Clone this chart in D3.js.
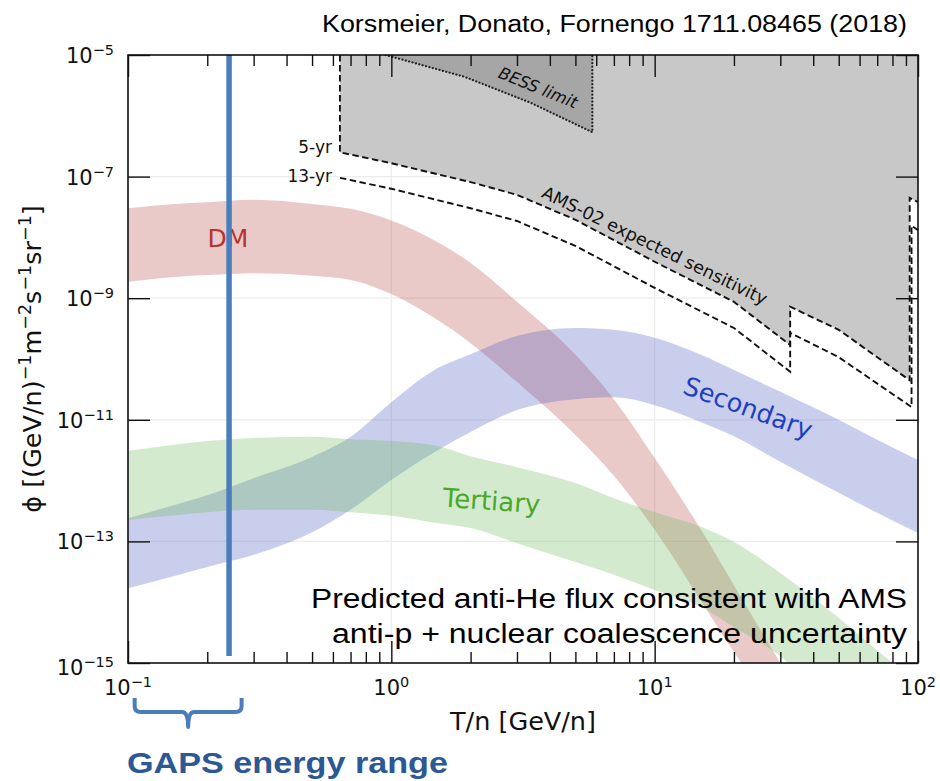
<!DOCTYPE html>
<html>
<head>
<meta charset="utf-8">
<script src="https://cdn.jsdelivr.net/npm/d3@7"></script>
<style>
  body { margin: 0; background: #fff; }
  svg { display: block; }
</style>
</head>
<body>
<svg id="chart" width="940" height="781"></svg>
<script>
// Kinetic energy per nucleon, GeV/n
const energy = [0.1, 0.15, 0.2, 0.3, 0.5, 0.7, 1, 1.5, 2, 3, 5, 7, 10, 15, 20, 30, 50, 70, 100];

// Band edges, log10 of flux [(GeV/n)^-1 m^-2 s^-1 sr^-1]
const dmHigh  = [-7.52, -7.45, -7.42, -7.38, -7.45, -7.53, -7.72, -8.08, -8.42, -9.06, -9.93, -10.66, -11.63, -12.81, -13.72, -15.0, -16.6, -17.6, -18.6];
const dmLow   = [-8.73, -8.65, -8.62, -8.59, -8.63, -8.70, -8.93, -9.36, -9.74, -10.38, -11.25, -11.92, -12.81, -13.98, -14.82, -15.9, -17.5, -18.5, -19.5];
const secHigh = [-12.62, -12.40, -12.24, -11.96, -11.61, -11.28, -10.71, -10.15, -9.92, -9.62, -9.49, -9.52, -9.65, -9.93, -10.18, -10.54, -11.00, -11.33, -11.66];
const secLow  = [-13.77, -13.57, -13.42, -13.22, -12.85, -12.48, -11.99, -11.50, -11.20, -10.84, -10.66, -10.63, -10.76, -11.04, -11.27, -11.69, -12.20, -12.53, -12.86];
const terHigh = [-11.51, -11.41, -11.35, -11.30, -11.28, -11.32, -11.35, -11.43, -11.60, -11.78, -12.04, -12.29, -12.52, -12.76, -13.01, -13.52, -14.26, -14.79, -15.36];
const terLow  = [-12.65, -12.57, -12.52, -12.48, -12.48, -12.52, -12.58, -12.70, -12.78, -13.03, -13.34, -13.55, -13.80, -14.08, -14.41, -14.89, -15.9, -16.6, -17.3];

// AMS-02 expected sensitivity [T, log10 flux]
const ams5yr  = [[0.638, -5.0], [0.638, -6.60], [1, -6.78], [2, -7.09], [3, -7.30], [5, -7.71], [10, -8.40], [20, -9.06],
                 [32.7, -9.77], [32.7, -9.14], [50, -9.52], [93, -10.35], [93, -7.35], [100, -7.42]];
const ams13yr = [[0.638, -7.02], [1, -7.20], [2, -7.52], [3, -7.73], [5, -8.14], [10, -8.83], [20, -9.49],
                 [32.7, -10.21], [32.7, -9.57], [50, -9.97], [94.5, -10.79], [94.5, -7.81], [100, -7.88]];
// BESS upper limit [T, log10 flux]
const bessLimit = [[0.95, -5.0], [1.9, -5.36], [3.4, -5.79], [5.8, -6.27], [5.8, -5.0]];

// GAPS
const gapsLine = 0.242;
const gapsRange = [0.106, 0.27];

// Axis ticks
const xMajor = [0.1, 1, 10, 100];
const xMinor = [2,3,4,5,6,7,8,9].flatMap(m => [0.1, 1, 10].map(d => m * d));
const yMajor = [1e-5, 1e-7, 1e-9, 1e-11, 1e-13, 1e-15];
const xTickLabels = ["−1", "0", "1", "2"];
const yTickLabels = ["−5", "−7", "−9", "−11", "−13", "−15"];

const svg = d3.select("#chart");
const plot = { left: 128, right: 918, top: 55, bottom: 663 };
const x = d3.scaleLog().domain([0.1, 100]).range([plot.left, plot.right]);
const y = d3.scaleLog().domain([1e-15, 1e-5]).range([plot.bottom, plot.top]);
const fy = v => y(Math.pow(10, v));
const yTop = y(1e-5);

svg.append("defs").append("clipPath").attr("id", "plotClip")
  .append("rect").attr("x", plot.left).attr("y", plot.top)
  .attr("width", plot.right - plot.left).attr("height", plot.bottom - plot.top);

const g = svg.append("g").attr("clip-path", "url(#plotClip)");

// faint grid at labelled decades
g.selectAll("line.vg").data([1, 10]).join("line").attr("class", "vg")
  .attr("x1", d => x(d)).attr("x2", d => x(d)).attr("y1", plot.top).attr("y2", plot.bottom)
  .attr("stroke", "#ececec").attr("stroke-width", 1.2);
g.selectAll("line.hg").data(yMajor.slice(1, -1)).join("line").attr("class", "hg")
  .attr("x1", plot.left).attr("x2", plot.right).attr("y1", d => y(d)).attr("y2", d => y(d))
  .attr("stroke", "#ececec").attr("stroke-width", 1.2);

// excluded region above the AMS-02 5-yr sensitivity
const above = d3.area().x(d => x(d[0])).y0(yTop).y1(d => fy(d[1]));
g.append("path").datum(ams5yr).attr("d", above).attr("fill", "#c8c8c8");
g.append("path").datum(bessLimit).attr("d", above).attr("fill", "#a6a6a6");

const lineGen = d3.line().x(d => x(d[0])).y(d => fy(d[1]));
g.append("path").datum(bessLimit).attr("d", lineGen).attr("fill", "none")
  .attr("stroke", "#222").attr("stroke-width", 2.2).attr("stroke-dasharray", "0.1,3.4").attr("stroke-linecap", "round");
[ams5yr, ams13yr].forEach(curve => {
  g.append("path").datum(curve).attr("d", lineGen).attr("fill", "none")
    .attr("stroke", "#111").attr("stroke-width", 1.9).attr("stroke-dasharray", "6.5,3.5");
});

// flux bands
const bands = [
  { hi: dmHigh,  lo: dmLow,  color: "#b84c4c" },
  { hi: secHigh, lo: secLow, color: "#4b5cc0" },
  { hi: terHigh, lo: terLow, color: "#6cb95c" }
];
const band = d3.area().curve(d3.curveMonotoneX)
  .x(d => x(d.e)).y0(d => fy(d.lo)).y1(d => fy(d.hi));
bands.forEach(b => {
  const rows = energy.map((e, i) => ({ e, lo: b.lo[i], hi: b.hi[i] }));
  g.append("path").datum(rows).attr("d", band).attr("fill", b.color).attr("fill-opacity", 0.3);
});

// in-plot labels
const mpl = "'DejaVu Sans', sans-serif";
function label(txt, px, py, rot, size, color, opts = {}) {
  const t = svg.append("text")
    .attr("transform", `translate(${px},${py}) rotate(${rot})`)
    .attr("text-anchor", opts.anchor || "middle")
    .attr("font-family", mpl).attr("font-size", size).attr("fill", color)
    .text(txt);
  if (opts.italic) t.attr("font-style", "italic");
  return t;
}
label("5-yr", 332, 153, 0, 17, "#111", { anchor: "end" });
label("13-yr", 332, 182, 0, 17, "#111", { anchor: "end" });
label("AMS-02 expected sensitivity", 652, 251, 26, 17.5, "#111");
label("BESS limit", 536, 93, 22, 16.5, "#111", { italic: true });
label("DM", 228, 247, 0, 25, "#b83232");
label("Secondary", 745, 416, 20, 25.5, "#1f3fbf");
label("Tertiary", 491, 510, 4, 26, "#4aa829");

// GAPS energy marker
svg.append("line")
  .attr("x1", x(gapsLine)).attr("x2", x(gapsLine))
  .attr("y1", yTop).attr("y2", plot.bottom - 7)
  .attr("stroke", "#4a7ebb").attr("stroke-width", 5.5);

// frame and ticks
const axisStyle = sel => {
  sel.select(".domain").remove();
  sel.selectAll(".tick line").attr("stroke", "#111").attr("stroke-width", 1.4);
};
const addAxis = (axis, tx, ty) => svg.append("g").attr("transform", `translate(${tx},${ty})`).call(axis).call(axisStyle);
addAxis(d3.axisBottom(x).tickValues(xMajor).tickSize(-22).tickFormat(""), 0, plot.bottom);
addAxis(d3.axisBottom(x).tickValues(xMinor).tickSize(-11).tickFormat(""), 0, plot.bottom);
addAxis(d3.axisTop(x).tickValues(xMajor).tickSize(-22).tickFormat(""), 0, plot.top);
addAxis(d3.axisTop(x).tickValues(xMinor).tickSize(-11).tickFormat(""), 0, plot.top);
addAxis(d3.axisLeft(y).tickValues(yMajor).tickSize(-22).tickFormat(""), plot.left, 0);
addAxis(d3.axisRight(y).tickValues(yMajor).tickSize(-22).tickFormat(""), plot.right, 0);

svg.append("rect").attr("x", plot.left).attr("y", plot.top)
  .attr("width", plot.right - plot.left).attr("height", plot.bottom - plot.top)
  .attr("fill", "none").attr("stroke", "#111").attr("stroke-width", 1.6);

// tick labels: 10 with superscript exponent
function powLabel(px, py, exp, anchor) {
  const t = svg.append("text").attr("x", px).attr("y", py)
    .attr("text-anchor", anchor).attr("font-family", mpl).attr("font-size", 21).attr("fill", "#111");
  t.append("tspan").text("10");
  t.append("tspan").attr("font-size", 14.5).attr("dy", -8).text(exp);
}
xMajor.forEach((v, i) => powLabel(x(v), 695, xTickLabels[i], "middle"));
yMajor.forEach((v, i) => powLabel(114, y(v) + (i === yMajor.length - 1 ? 12 : 8), yTickLabels[i], "end"));

// axis titles
svg.append("text").attr("x", (plot.left + plot.right) / 2).attr("y", 730)
  .attr("text-anchor", "middle").attr("font-family", mpl).attr("font-size", 25.5).attr("fill", "#111")
  .text("T/n [GeV/n]");

const yTitle = svg.append("text").attr("transform", `translate(41,359) rotate(-90)`)
  .attr("text-anchor", "middle").attr("font-family", mpl).attr("font-size", 25.5).attr("fill", "#111");
[["ϕ [(GeV/n)", 0], ["−1", 1], ["m", 0], ["−2", 1], ["s", 0], ["−1", 1], ["sr", 0], ["−1", 1], ["]", 0]]
  .forEach(([s, sup], i, arr) => {
    const prevSup = i > 0 && arr[i - 1][1];
    const ts = yTitle.append("tspan").text(s);
    if (sup) ts.attr("font-size", 17.5).attr("dy", -10);
    else if (prevSup) ts.attr("dy", 10);
  });

// annotations
const sans = "'Liberation Sans', Arial, sans-serif";
svg.append("text").attr("x", 322).attr("y", 32).attr("font-family", sans).attr("font-size", 23)
  .attr("textLength", 585).attr("lengthAdjust", "spacingAndGlyphs").attr("fill", "#000")
  .text("Korsmeier, Donato, Fornengo 1711.08465 (2018)");
svg.append("text").attr("x", 311).attr("y", 608).attr("font-family", sans).attr("font-size", 27)
  .attr("textLength", 596).attr("lengthAdjust", "spacingAndGlyphs").attr("fill", "#000")
  .text("Predicted anti-He flux consistent with AMS");
svg.append("text").attr("x", 332).attr("y", 643).attr("font-family", sans).attr("font-size", 27)
  .attr("textLength", 575).attr("lengthAdjust", "spacingAndGlyphs").attr("fill", "#000")
  .text("anti-p + nuclear coalescence uncertainty");

// GAPS energy range bracket
const bx1 = x(gapsRange[0]), bx2 = x(gapsRange[1]), bm = Math.sqrt(gapsRange[0] * gapsRange[1]);
const bmx = x(bm), by0 = 698, by1 = 712, by2 = 727, r = 6;
svg.append("path")
  .attr("d", `M${bx1},${by0} L${bx1},${by1 - r} Q${bx1},${by1} ${bx1 + r},${by1} L${bmx - r},${by1} Q${bmx},${by1} ${bmx},${by2}
              Q${bmx},${by1} ${bmx + r},${by1} L${bx2 - r},${by1} Q${bx2},${by1} ${bx2},${by1 - r} L${bx2},${by0}`)
  .attr("fill", "none").attr("stroke", "#4a7ebb").attr("stroke-width", 4).attr("stroke-linejoin", "round");

svg.append("text").attr("x", 127).attr("y", 773).attr("font-family", sans).attr("font-size", 30)
  .attr("font-weight", "bold").attr("textLength", 321).attr("lengthAdjust", "spacingAndGlyphs")
  .attr("fill", "#2c5893").text("GAPS energy range");
</script>
</body>
</html>
